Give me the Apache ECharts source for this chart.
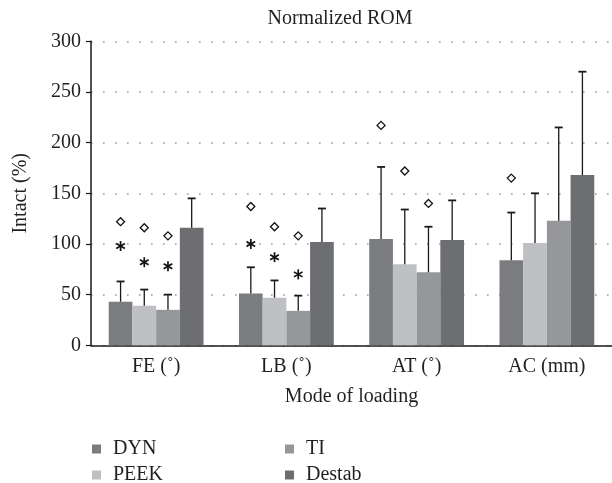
<!DOCTYPE html>
<html>
<head>
<meta charset="utf-8">
<script src="https://cdn.jsdelivr.net/npm/echarts@6/dist/echarts.min.js"></script>
<style>html,body{margin:0;padding:0;background:#fff;}#c{width:612px;height:483px;}</style>
</head>
<body>
<div id="c"></div>
<script>
const categories = ['FE (˚)', 'LB (˚)', 'AT (˚)', 'AC (mm)'];
const seriesNames = ['DYN', 'PEEK', 'TI', 'Destab'];
const dynMean = [43, 51, 105, 84];
const peekMean = [39, 47, 80, 101];
const tiMean = [35, 34, 72, 123];
const destabMean = [116, 102, 104, 168];
const dynErrTop = [63, 77, 176, 131];
const peekErrTop = [55, 64, 134, 150];
const tiErrTop = [50, 49, 117, 215];
const destabErrTop = [145, 135, 143, 270];
// significance markers: [category index, series index, value]
const diamondMarks = [[0,0,122],[0,1,116],[0,2,108],[1,0,137],[1,1,117],[1,2,108],[2,0,217],[2,1,172],[2,2,140],[3,0,165]];
const asteriskMarks = [[0,0,98],[0,1,82],[0,2,78],[1,0,100],[1,1,87],[1,2,70]];
const yTicks = [0, 50, 100, 150, 200, 250, 300];

const colors = ['#7b7c80', '#bfc0c3', '#96979b', '#6d6e72'];
const means = [dynMean, peekMean, tiMean, destabMean];
const errs = [dynErrTop, peekErrTop, tiErrTop, destabErrTop];
const FONT = 'Liberation Serif';
const FS = 20;
const BAR_W = 23.7;

const chart = echarts.init(document.getElementById('c'), null, {renderer: 'canvas'});

const series = [];
seriesNames.forEach((name, i) => {
  series.push({
    name: name, type: 'bar', data: means[i], barWidth: BAR_W, barGap: '0%',
    itemStyle: {color: colors[i]}, z: 2
  });
});
seriesNames.forEach((name, i) => {
  series.push({
    type: 'custom', silent: true, z: 3,
    data: means[i].map((m, k) => [k, m, errs[i][k]]),
    renderItem: function (params, api) {
      const base = api.coord([api.value(0), api.value(1)]);
      const top = api.coord([api.value(0), api.value(2)]);
      const x = base[0] + (i - 1.5) * BAR_W;
      return {
        type: 'group', children: [
          {type: 'line', shape: {x1: x, y1: base[1], x2: x, y2: top[1]}, style: {stroke: '#1a1a1a', lineWidth: 1.3}},
          {type: 'line', shape: {x1: x - 4, y1: top[1], x2: x + 4, y2: top[1]}, style: {stroke: '#1a1a1a', lineWidth: 1.8}}
        ]
      };
    }
  });
});
series.push({
  type: 'custom', silent: true, z: 4, data: diamondMarks,
  renderItem: function (params, api) {
    const p = api.coord([api.value(0), api.value(2)]);
    const x = p[0] + (api.value(1) - 1.5) * BAR_W, y = p[1], r = 4;
    return {type: 'polygon', shape: {points: [[x, y - r], [x + r, y], [x, y + r], [x - r, y]]},
      style: {fill: '#fff', stroke: '#111', lineWidth: 1.3}};
  }
});
series.push({
  type: 'custom', silent: true, z: 4, data: asteriskMarks,
  renderItem: function (params, api) {
    const p = api.coord([api.value(0), api.value(2)]);
    const x = p[0] + (api.value(1) - 1.5) * BAR_W, y = p[1], r = 5;
    const kids = [];
    for (let a = 0; a < 3; a++) {
      const ang = Math.PI / 2 + a * Math.PI / 3;
      kids.push({type: 'line', shape: {x1: x - r * Math.cos(ang), y1: y - r * Math.sin(ang), x2: x + r * Math.cos(ang), y2: y + r * Math.sin(ang)},
        style: {stroke: '#111', lineWidth: 1.7}});
    }
    return {type: 'group', children: kids};
  }
});

const legendCommon = {orient: 'vertical', top: 439, height: 47, padding: 0, itemWidth: 9, itemHeight: 9, itemGap: 6, icon: 'rect',
  textStyle: {fontFamily: FONT, fontSize: FS, color: '#231f20', padding: [0, 0, 0, 7]}};

chart.setOption({
  animation: false,
  backgroundColor: '#fff',
  textStyle: {fontFamily: FONT},
  title: {text: 'Normalized ROM', left: 340, textAlign: 'center', top: 9, padding: 0,
    textStyle: {fontFamily: FONT, fontSize: FS, fontWeight: 'normal', color: '#231f20'}},
  legend: [
    Object.assign({data: ['DYN', 'PEEK'], left: 92}, legendCommon),
    Object.assign({data: ['TI', 'Destab'], left: 285}, legendCommon)
  ],
  grid: {left: 91, top: 41.3, width: 524, height: 304, containLabel: false},
  xAxis: {
    type: 'category', data: categories,
    name: 'Mode of loading', nameLocation: 'middle', nameGap: 41,
    nameTextStyle: {fontFamily: FONT, fontSize: FS, color: '#231f20'},
    axisLine: {lineStyle: {color: '#1a1a1a', width: 1.5}},
    axisTick: {show: false},
    axisLabel: {fontFamily: FONT, fontSize: FS, color: '#231f20', margin: 11}
  },
  yAxis: {
    type: 'value', min: 0, max: 300, interval: 50,
    name: 'Intact (%)', nameLocation: 'middle', nameGap: 60,
    nameTextStyle: {fontFamily: FONT, fontSize: FS, color: '#231f20'},
    axisLine: {show: true, lineStyle: {color: '#1a1a1a', width: 1.5}},
    axisTick: {show: true, length: 5, lineStyle: {color: '#1a1a1a', width: 1.2}},
    axisLabel: {fontFamily: FONT, fontSize: FS, color: '#231f20', margin: 10,
      formatter: v => yTicks.indexOf(v) >= 0 ? String(v) : ''},
    splitLine: {show: true, lineStyle: {color: '#9a9a9a', width: 1.6, type: [1.6, 10.4]}}
  },
  series: series
});
</script>
</body>
</html>
